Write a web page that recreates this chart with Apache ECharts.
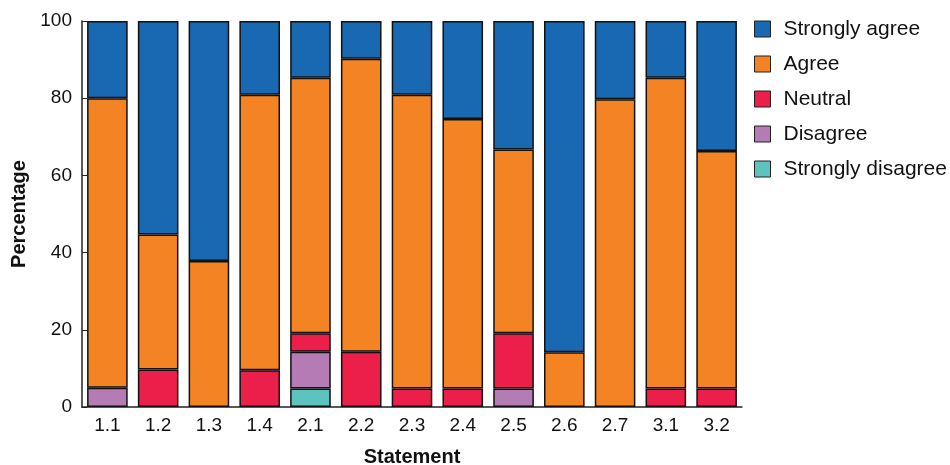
<!DOCTYPE html>
<html>
<head>
<meta charset="utf-8">
<script src="https://cdn.jsdelivr.net/npm/echarts@6/dist/echarts.min.js"></script>
<style>
html,body{margin:0;padding:0;background:#fff;}
#chart{width:950px;height:465px;}
</style>
</head>
<body>
<div id="chart"></div>
<script>
const categories = ['1.1','1.2','1.3','1.4','2.1','2.2','2.3','2.4','2.5','2.6','2.7','3.1','3.2'];
const stronglyDisagree = [0,0,0,0,4.8,0,0,0,0,0,0,0,0];
const disagree = [5,0,0,0,9.5,0,0,0,4.8,0,0,0,0];
const neutral = [0,9.7,0,9.5,4.8,14.3,4.8,4.8,14.3,0,0,4.8,4.8];
const agree = [75,35,37.8,71.4,66.2,75.9,76.1,69.8,47.6,14.2,79.7,80.5,61.5];
const stronglyAgree = [20,55.3,62.2,19.1,14.7,9.8,19.1,25.4,33.3,85.8,20.3,14.7,33.7];
const yTicks = [0,20,40,60,80,100];

const FONT = '"Liberation Sans", Arial, sans-serif';
const seriesDefs = [
  {name:'Strongly disagree', data: stronglyDisagree, color:'#5cc4bd'},
  {name:'Disagree', data: disagree, color:'#b47bb5'},
  {name:'Neutral', data: neutral, color:'#ec1e4a'},
  {name:'Agree', data: agree, color:'#f48423'},
  {name:'Strongly agree', data: stronglyAgree, color:'#1869b2'}
];

const chart = echarts.init(document.getElementById('chart'), null, {renderer:'canvas'});
chart.setOption({
  animation: false,
  backgroundColor: '#fff',
  textStyle: {fontFamily: FONT},
  grid: {left: 82, right: 208, top: 21, bottom: 58, containLabel: false, outerBoundsMode: 'none'},
  legend: {
    orient: 'vertical',
    left: 754,
    top: 18.5,
    padding: 0,
    itemWidth: 16,
    itemHeight: 16,
    itemGap: 14,
    icon: 'rect',
    data: ['Strongly agree','Agree','Neutral','Disagree','Strongly disagree'],
    itemStyle: {borderColor: '#222', borderWidth: 1},
    textStyle: {fontSize: 21, color: '#111', fontFamily: FONT, padding: [0,0,0,8]}
  },
  xAxis: {
    type: 'category',
    data: categories,
    name: 'Statement',
    nameLocation: 'middle',
    nameGap: 40,
    nameTextStyle: {fontSize: 20, fontWeight: 'bold', color: '#111', fontFamily: FONT},
    axisLine: {lineStyle: {color: '#222', width: 1.5}},
    axisTick: {inside: true, length: 5, lineStyle: {color: '#222', width: 1}},
    axisLabel: {fontSize: 19, color: '#111', margin: 9, fontFamily: FONT}
  },
  yAxis: {
    type: 'value',
    min: 0, max: 100, interval: 20,
    name: 'Percentage',
    nameLocation: 'middle',
    nameGap: 52,
    nameRotate: 90,
    nameTextStyle: {fontSize: 20, fontWeight: 'bold', color: '#111', fontFamily: FONT},
    axisLine: {show: true, lineStyle: {color: '#222', width: 1.5}},
    axisTick: {show: true, inside: true, length: 5, lineStyle: {color: '#222', width: 1}},
    splitLine: {show: false},
    axisLabel: {fontSize: 19, color: '#111', margin: 10, fontFamily: FONT,
      formatter: v => yTicks.includes(v) ? String(v) : ''}
  },
  series: seriesDefs.map(s => ({
    name: s.name,
    type: 'bar',
    stack: 'total',
    barCategoryGap: '20%',
    data: s.data.map(v => v === 0 ? '-' : v),
    itemStyle: {color: s.color, borderColor: '#111', borderWidth: 1.5}
  }))
});
</script>
</body>
</html>
